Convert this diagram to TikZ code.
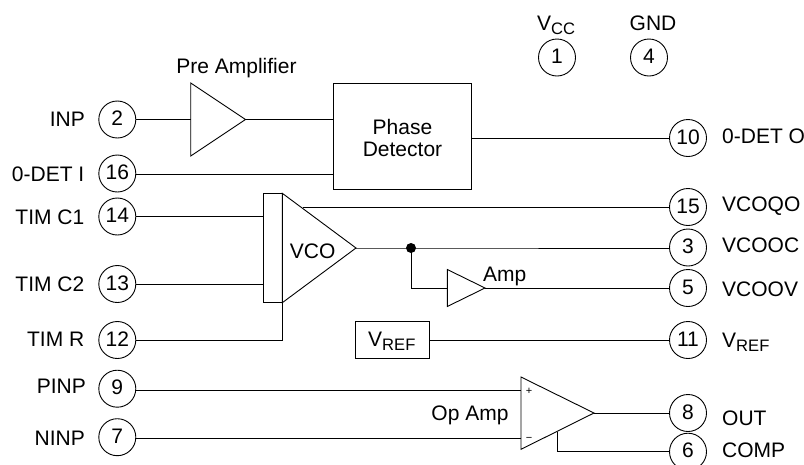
\documentclass[tikz,border=0pt]{standalone}
\usepackage{fontspec}
\setmainfont{Liberation Sans}
\newcommand{\Vsub}[1]{V\raisebox{-4.5pt}{\fontsize{16.6}{18}\selectfont #1}}
\tikzset{
  x=1pt,y=-1pt,
  wire/.style={draw=black,line width=0.9pt},
  pin/.style={circle,draw=black,line width=0.9pt,minimum size=37pt,inner sep=0pt,fill=white,font=\fontsize{21}{24}\selectfont,text height=15pt,text depth=3pt},
  lab/.style={inner sep=0pt,font=\fontsize{21}{24}\selectfont},
  labl/.style={lab,anchor=base east},
  labr/.style={lab,anchor=base west},
  labc/.style={lab,anchor=base},
  boxed/.style={draw=black,line width=0.9pt,inner sep=0pt,font=\fontsize{21}{22.7}\selectfont,align=center},
  tri/.style={draw=black,line width=0.9pt,line join=miter},
}
\begin{document}
\begin{tikzpicture}
\useasboundingbox (0,0) rectangle (804,464);
% pins
\node[pin] (p1) at (557,57.5) {1};
\node[pin] (p4) at (649,57.5) {4};
\node[pin] (p2) at (117.3,119.5) {2};
\node[pin] (p16) at (117.3,173.5) {16};
\node[pin] (p14) at (117.3,216.5) {14};
\node[pin] (p13) at (117.3,284) {13};
\node[pin] (p12) at (117.3,340) {12};
\node[pin] (p9) at (117.3,388.7) {9};
\node[pin] (p7) at (117.3,437.2) {7};
\node[pin] (p10) at (688,138) {10};
\node[pin] (p15) at (688,207) {15};
\node[pin] (p3) at (688,247.5) {3};
\node[pin] (p5) at (688,288) {5};
\node[pin] (p11) at (688,340) {11};
\node[pin] (p8) at (688,413) {8};
\node[pin] (p6) at (688,451.7) {6};
% left labels
\node[labl] at (85,126.7) {INP};
\node[labl] at (84.5,181.7) {0-DET I};
\node[labl] at (84.5,224) {TIM C1};
\node[labl] at (84.5,291) {TIM C2};
\node[labl] at (84.5,346.7) {TIM R};
\node[labl] at (86,393.3) {PINP};
\node[labl] at (85,445) {NINP};
% right labels
\node[labr] at (722,143.3) {0-DET O};
\node[labr] at (722,211.7) {VCOQO};
\node[labr] at (722,252.7) {VCOOC};
\node[labr] at (722,296.7) {VCOOV};
\node[labr] at (722,347.3) {\Vsub{REF}};
\node[labr] at (722,425) {OUT};
\node[labr] at (722,457.7) {COMP};
\node[labr] at (537,30) {\Vsub{CC}};
\node[labc] at (653,30) {GND};
\node[labc] at (236.5,73) {Pre Amplifier};
\node[labc] at (470,420.7) {Op Amp};
% pre amplifier
\coordinate (paT) at (190.7,83);
\coordinate (paB) at (190.7,156);
\coordinate (paO) at (245.5,119.5);
\draw[tri] (paT) -- (paO) -- (paB) -- cycle;
% phase detector
\node[boxed,minimum width=137.6pt,minimum height=106.3pt] (pd) at (402.5,136.2) {\rule{0pt}{19pt}Phase\\Detector};
\draw[wire] (p2) -- (p2 -| paT);
\draw[wire] (paO) -- (paO -| pd.west);
\coordinate (w16) at (333.7,174.7);
\draw[wire] (w16 -| p16.east) -- (w16);
\draw[wire] (pd.east |- p10) -- (p10);
% VCO
\node[draw=black,line width=0.9pt,minimum width=18.6pt,minimum height=109.4pt,inner sep=0pt] (bar) at (273,248) {};
\coordinate (vcT) at (282.3,193.3);
\coordinate (vcB) at (282.3,302.7);
\coordinate (vcO) at (356,248);
\draw[tri] (vcT) -- (vcO) -- (vcB) -- cycle;
\node[labc] at (312.7,258.7) {VCO};
\draw[wire] (p14) -- (p14 -| bar.west);
\draw[wire] (p13) -- (p13 -| bar.west);
\draw[wire] (p12) -| (vcB);
\coordinate (q15) at (303,207);
\draw[wire] (q15) -- (p15);
\coordinate (dot) at (411,248);
\draw[wire] (vcO) -- (dot) -- (dot -| p3.west);
\fill (dot) circle (5pt);
\coordinate (amT) at (447.3,269.5);
\coordinate (amB) at (447.3,306.5);
\coordinate (amO) at (485,288);
\draw[tri] (amT) -- (amO) -- (amB) -- cycle;
\coordinate (amI) at (447.3,288);
\draw[wire] (dot) |- (amI);
\draw[wire] (amO) -- (p5);
\node[labr] at (483,281) {Amp};
% vref
\node[boxed,minimum width=73.6pt,minimum height=36.3pt] (vr) at (392.5,340) {};
\node[labr] at (368,346) {\Vsub{REF}};
\draw[wire] (vr) -- (p11);
% op amp
\coordinate (opT) at (521,377);
\coordinate (opB) at (521,449.3);
\coordinate (opO) at (594,413);
\draw[tri] (opT) -- (opO) -- (opB) -- cycle;
\coordinate (w9) at (521,390);
\coordinate (w7) at (521,438);
\draw[wire] (w9 -| p9.east) -- (w9);
\draw[wire] (w7 -| p7.east) -- (w7);
\draw[wire] (opO) -- (p8);
\coordinate (cmp) at (557.7,431.5);
\draw[wire] (cmp) |- (p6);
\node[inner sep=0pt,font=\fontsize{11}{12}\selectfont] at (529,391.3) {+};
\node[inner sep=0pt,font=\fontsize{11}{12}\selectfont] at (529,439) {−};
\end{tikzpicture}
\end{document}
